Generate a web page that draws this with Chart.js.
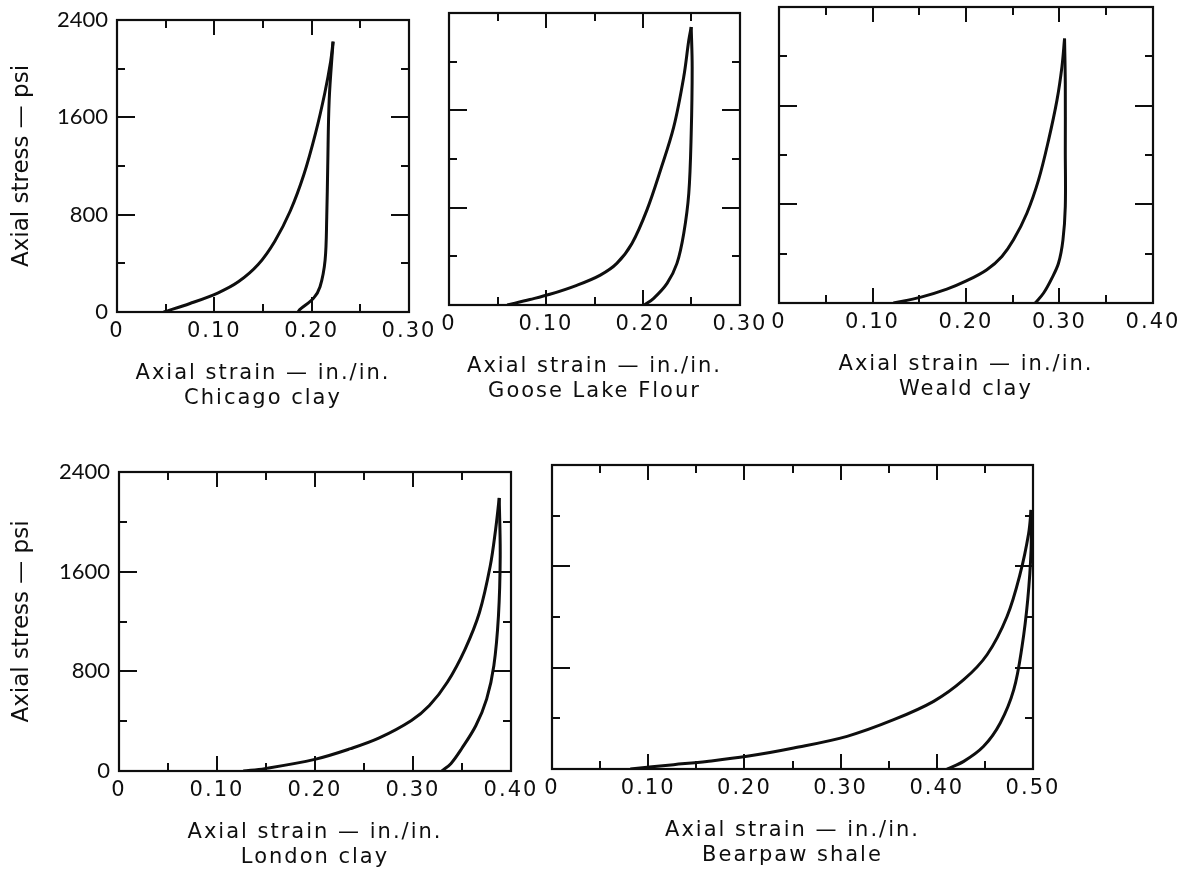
<!DOCTYPE html>
<html>
<head>
<meta charset="utf-8">
<title>Axial stress vs axial strain</title>
<script src="https://cdn.jsdelivr.net/npm/chart.js@4.4.0/dist/chart.umd.min.js"></script>
<style>
    html, body { margin: 0; padding: 0; background: #fff; }
    body { width: 1196px; height: 876px; position: relative; overflow: hidden; }
    canvas.panel { position: absolute; }
</style>
</head>
<body>
<script>
'use strict';

// curves: [axial strain in./in., axial stress psi]
const chicagoLoading = [[0.048, 0], [0.075, 70], [0.104, 158], [0.125, 250], [0.145, 390], [0.162, 580], [0.178, 830], [0.192, 1130], [0.204, 1470], [0.2135, 1800], [0.2195, 2060], [0.222, 2222]];
const chicagoUnloading = [[0.222, 2222], [0.218, 1742], [0.2165, 1200], [0.2155, 783], [0.2138, 427], [0.2086, 208], [0.2018, 112], [0.188, 22], [0.186, 0]];

const gooseLoading = [[0.060, 0], [0.0834, 45], [0.104, 88], [0.1317, 162], [0.156, 246], [0.173, 342], [0.1886, 506], [0.204, 780], [0.218, 1108], [0.2317, 1464], [0.242, 1875], [0.2472, 2176], [0.2497, 2285]];
const gooseUnloading = [[0.2497, 2285], [0.2507, 1957], [0.2497, 1409], [0.2472, 917], [0.242, 588], [0.235, 342], [0.2248, 178], [0.211, 55], [0.2014, 0]];

const wealdLoading = [[0.1224, 0], [0.151, 46], [0.1795, 113], [0.2009, 181], [0.2223, 270], [0.2384, 378], [0.2508, 512], [0.2651, 728], [0.2776, 998], [0.2883, 1321], [0.2973, 1645], [0.3026, 1915], [0.3054, 2144]];
const wealdUnloading = [[0.3054, 2144], [0.3062, 1780], [0.3062, 1241], [0.3062, 782], [0.3037, 512], [0.299, 324], [0.2919, 202], [0.283, 81], [0.274, 0]];

const londonLoading = [[0.1268, 0], [0.1487, 19], [0.1998, 93], [0.2363, 179], [0.2656, 265], [0.2984, 405], [0.3167, 525], [0.335, 712], [0.3532, 979], [0.3678, 1272], [0.3788, 1645], [0.3843, 1939], [0.388, 2192]];
const londonUnloading = [[0.388, 2192], [0.389, 1725], [0.3872, 1245], [0.3825, 845], [0.3752, 579], [0.3642, 365], [0.3496, 179], [0.3386, 59], [0.3295, 0]];

const bearpawLoading = [[0.0814, 0], [0.1265, 34], [0.161, 60], [0.2027, 100], [0.2512, 166], [0.3067, 258], [0.3552, 389], [0.3967, 534], [0.428, 705], [0.4522, 902], [0.473, 1204], [0.4868, 1546], [0.4955, 1861], [0.498, 2045]];
const bearpawUnloading = [[0.498, 2045], [0.498, 1730], [0.4945, 1335], [0.4886, 967], [0.48, 626], [0.466, 363], [0.4487, 179], [0.428, 60], [0.4106, 0]];

const stressMax = 2400;
const stressStep = 400;
const stressTickLabels = ['0', '800', '1600', '2400'];
const strainStep = 0.05;

const strainTitle = 'Axial strain — in./in.';
const stressTitle = 'Axial stress — psi';

// one entry per panel; box = plot frame in page pixels
const panels = [
    { name: 'Chicago clay', loading: chicagoLoading, unloading: chicagoUnloading, strainMax: 0.30, stressAxis: true, box: { left: 117, top: 20, right: 409, bottom: 312 } },
    { name: 'Goose Lake Flour', loading: gooseLoading, unloading: gooseUnloading, strainMax: 0.30, stressAxis: false, box: { left: 449, top: 13, right: 740, bottom: 305 } },
    { name: 'Weald clay', loading: wealdLoading, unloading: wealdUnloading, strainMax: 0.40, stressAxis: false, box: { left: 779, top: 7, right: 1153, bottom: 303 } },
    { name: 'London clay', loading: londonLoading, unloading: londonUnloading, strainMax: 0.40, stressAxis: true, box: { left: 119, top: 472, right: 511, bottom: 771 } },
    { name: 'Bearpaw shale', loading: bearpawLoading, unloading: bearpawUnloading, strainMax: 0.50, stressAxis: false, box: { left: 552, top: 465, right: 1033, bottom: 769 } }
];

const INK = '#0e0e0e';
const SANS = '"DejaVu Sans", sans-serif';
const DIGITS = 'Lato, "DejaVu Sans", sans-serif';
const MARGIN = { top: 18, right: 42, bottom: 110, left: 30 };
const LONG_TICK = 15;
const SHORT_TICK = 8;

function strainLabel(v) {
    const k = Math.round(v * 100);
    if (k % 10 !== 0) return '';
    return k === 0 ? '0' : (k / 100).toFixed(2);
}

function stressLabel(v) {
    const s = String(Math.round(v));
    return stressTickLabels.includes(s) ? s : '';
}

// x axis text is drawn spaced out (z 0), y axis text after the datasets (z 1) without spacing;
// then the frame and the inward tick marks on all four sides
const framePlugin = {
    id: 'frame',
    beforeDraw(chart) {
        chart.ctx.letterSpacing = '2px';
    },
    afterDatasetsDraw(chart) {
        chart.ctx.letterSpacing = '0px';
    },
    afterDraw(chart) {
        const { ctx, chartArea: a, scales: { x, y } } = chart;
        ctx.save();
        ctx.strokeStyle = INK;
        ctx.lineWidth = 2.2;
        ctx.strokeRect(a.left, a.top, a.right - a.left, a.bottom - a.top);
        ctx.beginPath();
        x.ticks.forEach(t => {
            if (t.value <= x.min + 1e-9 || t.value >= x.max - 1e-9) return;
            const px = Math.round(x.getPixelForValue(t.value));
            const len = strainLabel(t.value) ? LONG_TICK : SHORT_TICK;
            ctx.moveTo(px, a.bottom); ctx.lineTo(px, a.bottom - len);
            ctx.moveTo(px, a.top); ctx.lineTo(px, a.top + len);
        });
        y.ticks.forEach(t => {
            if (t.value <= y.min || t.value >= y.max) return;
            const py = Math.round(y.getPixelForValue(t.value));
            const len = stressLabel(t.value) ? LONG_TICK + 3 : SHORT_TICK;
            ctx.moveTo(a.left, py); ctx.lineTo(a.left + len, py);
            ctx.moveTo(a.right, py); ctx.lineTo(a.right - len, py);
        });
        ctx.lineWidth = 2;
        ctx.stroke();
        ctx.restore();
    }
};

function curve(points) {
    return {
        data: points.map(([x, y]) => ({ x, y })),
        showLine: true,
        borderColor: INK,
        borderWidth: 3,
        pointRadius: 0,
        tension: 0.35,
        fill: false
    };
}

function zeroPadding(scale) {
    scale.paddingLeft = 0;
    scale.paddingRight = 0;
    scale.paddingTop = 0;
    scale.paddingBottom = 0;
}

function mountPanel(p) {
    const left = p.stressAxis ? p.box.left : MARGIN.left;
    const canvas = document.createElement('canvas');
    canvas.className = 'panel';
    const w = left + (p.box.right - p.box.left) + MARGIN.right;
    const h = MARGIN.top + (p.box.bottom - p.box.top) + MARGIN.bottom;
    canvas.width = w;
    canvas.height = h;
    canvas.style.left = (p.box.left - left) + 'px';
    canvas.style.top = (p.box.top - MARGIN.top) + 'px';
    canvas.style.width = w + 'px';
    canvas.style.height = h + 'px';
    document.body.appendChild(canvas);

    return new Chart(canvas.getContext('2d'), {
        type: 'scatter',
        data: { datasets: [curve(p.loading), curve(p.unloading)] },
        options: {
            responsive: false,
            animation: false,
            devicePixelRatio: 1,
            layout: { padding: { top: MARGIN.top, right: MARGIN.right, left: 0, bottom: 0 } },
            plugins: { legend: { display: false }, tooltip: { enabled: false } },
            scales: {
                x: {
                    type: 'linear',
                    min: 0,
                    max: p.strainMax,
                    border: { display: false },
                    grid: { display: false, drawTicks: false },
                    ticks: {
                        stepSize: strainStep,
                        autoSkip: false,
                        maxRotation: 0,
                        padding: 7,
                        color: INK,
                        font: { family: SANS, size: 21 },
                        callback: strainLabel
                    },
                    title: {
                        display: true,
                        text: [strainTitle, p.name],
                        color: INK,
                        font: { family: SANS, size: 21, lineHeight: 1.2 },
                        padding: { top: 0, bottom: 10.5 }
                    },
                    afterFit(scale) {
                        scale.height = MARGIN.bottom;
                        zeroPadding(scale);
                    }
                },
                y: {
                    type: 'linear',
                    min: 0,
                    max: stressMax,
                    border: { display: false, z: 1 },
                    grid: { display: false, drawTicks: false, z: 1 },
                    ticks: {
                        display: p.stressAxis,
                        z: 1,
                        stepSize: stressStep,
                        autoSkip: false,
                        padding: 9,
                        color: INK,
                        font: { family: DIGITS, size: 22 },
                        callback: stressLabel
                    },
                    title: {
                        display: p.stressAxis,
                        text: stressTitle,
                        color: INK,
                        font: { family: SANS, size: 23, lineHeight: 1.25 },
                        padding: { top: 8, bottom: 0 }
                    },
                    afterFit(scale) {
                        scale.width = left;
                        zeroPadding(scale);
                    }
                }
            }
        },
        plugins: [framePlugin]
    });
}

panels.forEach(mountPanel);
</script>
</body>
</html>
